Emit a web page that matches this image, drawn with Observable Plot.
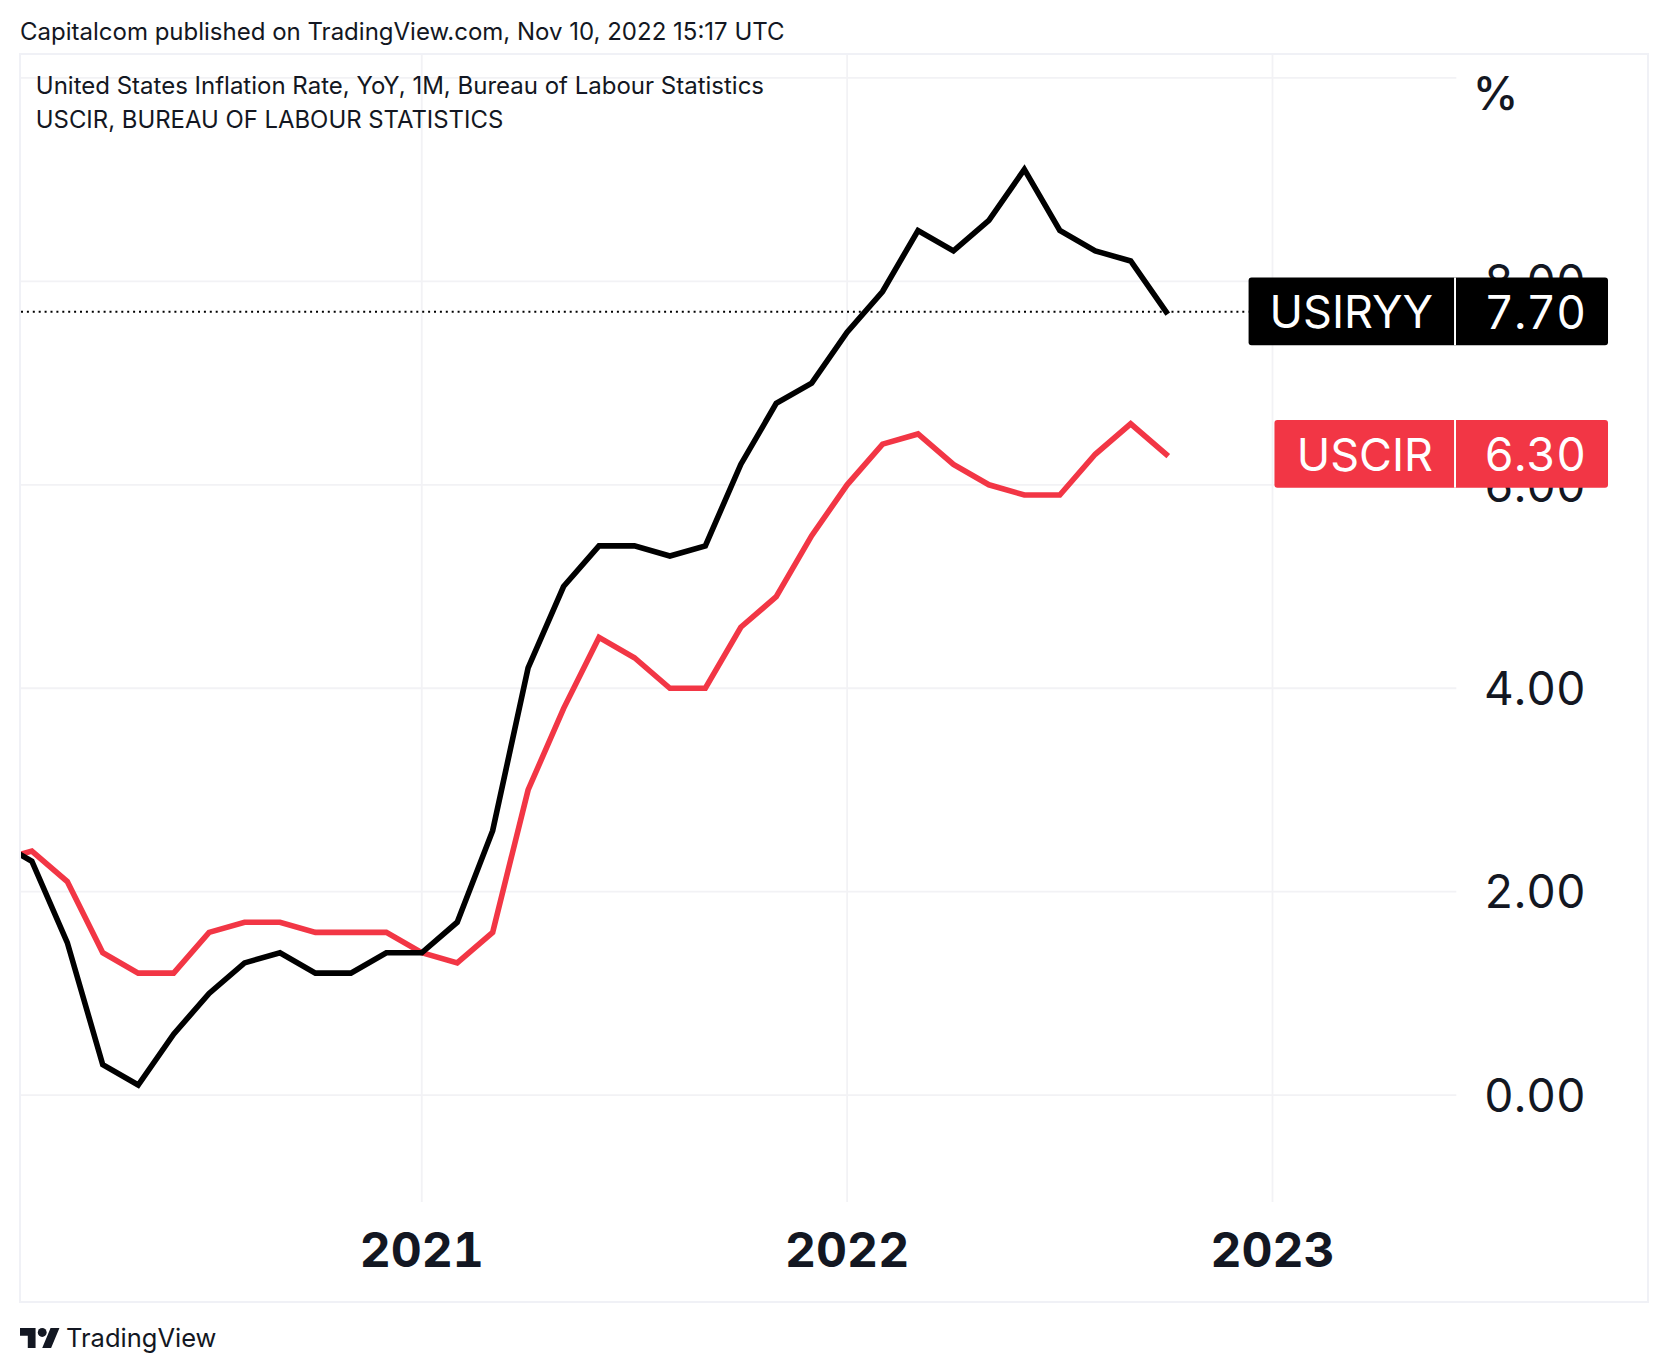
<!DOCTYPE html>
<html>
<head>
<meta charset="utf-8">
<script src="https://cdn.jsdelivr.net/npm/d3@7"></script>
<script src="https://cdn.jsdelivr.net/npm/@observablehq/plot@0.6"></script>
<style>
  html, body { margin: 0; padding: 0; background: #fff; }
  body { width: 1668px; height: 1372px; position: relative; font-family: Inter, sans-serif; color: #131722; overflow: hidden; }
  #head { position: absolute; left: 20px; top: 14px; font-size: 24px; line-height: 36px; white-space: nowrap; }
  #frame { position: absolute; left: 19px; top: 52.5px; width: 1630px; height: 1250px; box-sizing: border-box; border: 2px solid #f0f1f6; }
  #frame svg { display: block; }
  #foot { position: absolute; left: 20px; top: 1322px; display: flex; align-items: center; gap: 6px; font-size: 25.5px; line-height: 32px; white-space: nowrap; }
  #foot svg { width: 40px; height: 20px; display: block; }
</style>
</head>
<body>
<div id="head">Capitalcom published on TradingView.com, Nov 10, 2022 15:17 UTC</div>
<div id="frame"></div>
<div id="foot">
  <svg viewBox="0 4 36 18" fill="#131722"><path d="M14 22H7V11H0V4h14v18zM28 22h-8l7.5-18h8L28 22z"/><circle cx="20" cy="8" r="4"/></svg>
  <span>TradingView</span>
</div>
<script>
const months = [
  "2020-01","2020-02","2020-03","2020-04","2020-05","2020-06","2020-07","2020-08","2020-09","2020-10","2020-11","2020-12",
  "2021-01","2021-02","2021-03","2021-04","2021-05","2021-06","2021-07","2021-08","2021-09","2021-10","2021-11","2021-12",
  "2022-01","2022-02","2022-03","2022-04","2022-05","2022-06","2022-07","2022-08","2022-09","2022-10"
];
const usiryy = [2.5,2.3,1.5,0.3,0.1,0.6,1.0,1.3,1.4,1.2,1.2,1.4,1.4,1.7,2.6,4.2,5.0,5.4,5.4,5.3,5.4,6.2,6.8,7.0,7.5,7.9,8.5,8.3,8.6,9.1,8.5,8.3,8.2,7.7];
const uscir  = [2.3,2.4,2.1,1.4,1.2,1.2,1.6,1.7,1.7,1.6,1.6,1.6,1.4,1.3,1.6,3.0,3.8,4.5,4.3,4.0,4.0,4.6,4.9,5.5,6.0,6.4,6.5,6.2,6.0,5.9,5.9,6.3,6.6,6.3];
const yearLabels = ["2021","2022","2023"];
const yearIndex = [12,24,36];
const yTicks = [0,2,4,6,8];
const yGrid = [0,2,4,6,8,10];
const seriesNames = ["USIRYY","USCIR"];
const lastValues = [7.7,6.3];
const seriesColors = ["#000000","#f23645"];
const tagLeft = [35.34,36.07];

const INK = "#131722", GRID = "#f2f2f5";
const xDomain = [0.708, 41.2];
const tagDivider = 41.15, tagRight = 45.48, tagHalf = 0.333;
const big = 46;

const idx = months.map((_, i) => i);
const tags = seriesNames.map((name, i) => ({name, value: lastValues[i], color: seriesColors[i], left: tagLeft[i]}));
const lineStyle = {strokeWidth: 5.6, curve: "linear", strokeLinejoin: "miter", strokeMiterlimit: 4, strokeLinecap: "square", clip: true};

const chart = Plot.plot({
  width: 1626, height: 1246,
  marginLeft: 0, marginRight: 190.7, marginTop: 0, marginBottom: 99,
  style: {fontFamily: "Inter, sans-serif", background: "#fff", color: INK},
  x: {type: "linear", domain: xDomain, axis: null},
  y: {type: "linear", domain: [-1.055, 10.22], axis: null},
  marks: [
    Plot.ruleY(yGrid, {stroke: GRID, strokeWidth: 1.8, strokeOpacity: 1}),
    Plot.ruleX(yearIndex, {stroke: GRID, strokeWidth: 1.8, strokeOpacity: 1}),
    Plot.axisY({anchor: "right", ticks: yTicks, tickSize: 0, tickPadding: 129, textAnchor: "end", dy: 2,
      tickFormat: d => d.toFixed(2), fontSize: big, fontVariant: "tabular-nums", fill: INK, label: null}),
    Plot.axisX({anchor: "bottom", ticks: yearIndex, tickSize: 0, tickPadding: 30,
      tickFormat: d => yearLabels[yearIndex.indexOf(d)], fontSize: 48, fontWeight: 700, fill: INK, label: null}),
    Plot.ruleY([lastValues[0]], {x1: xDomain[0], x2: tagLeft[0], stroke: "#000", strokeWidth: 2, strokeDasharray: "2 3.9"}),
    Plot.line(idx, {x: i => i, y: i => uscir[i], stroke: seriesColors[1], ...lineStyle}),
    Plot.line(idx, {x: i => i, y: i => usiryy[i], stroke: seriesColors[0], ...lineStyle}),
    Plot.rect(tags, {x1: "left", x2: tagRight, y1: d => d.value - tagHalf, y2: d => d.value + tagHalf, fill: "color", rx: 3}),
    Plot.ruleX(tags, {x: tagDivider, y1: d => d.value - tagHalf, y2: d => d.value + tagHalf, stroke: "#fff", strokeWidth: 2}),
    Plot.text(tags, {x: tagDivider, y: "value", text: "name", textAnchor: "end", dx: -22, dy: 2, fill: "#fff", fontSize: 45}),
    Plot.text(tags, {x: tagDivider, y: "value", text: d => d.value.toFixed(2), textAnchor: "end", dx: 131, dy: 2, fill: "#fff", fontSize: big, fontVariant: "tabular-nums"}),
    Plot.text(["United States Inflation Rate, YoY, 1M, Bureau of Labour Statistics"], {frameAnchor: "top-left", textAnchor: "start", lineAnchor: "middle", dx: 14.3, dy: 30.5, fontSize: 24, fill: INK}),
    Plot.text(["USCIR, BUREAU OF LABOUR STATISTICS"], {frameAnchor: "top-left", textAnchor: "start", lineAnchor: "middle", dx: 14.3, dy: 64.5, fontSize: 23.9, fill: INK}),
    Plot.text(["%"], {frameAnchor: "top-right", textAnchor: "start", lineAnchor: "middle", dx: 16, dy: 39.5, fontSize: 46, fontWeight: 500, fill: INK})
  ]
});
document.getElementById("frame").append(chart);
</script>
</body>
</html>
